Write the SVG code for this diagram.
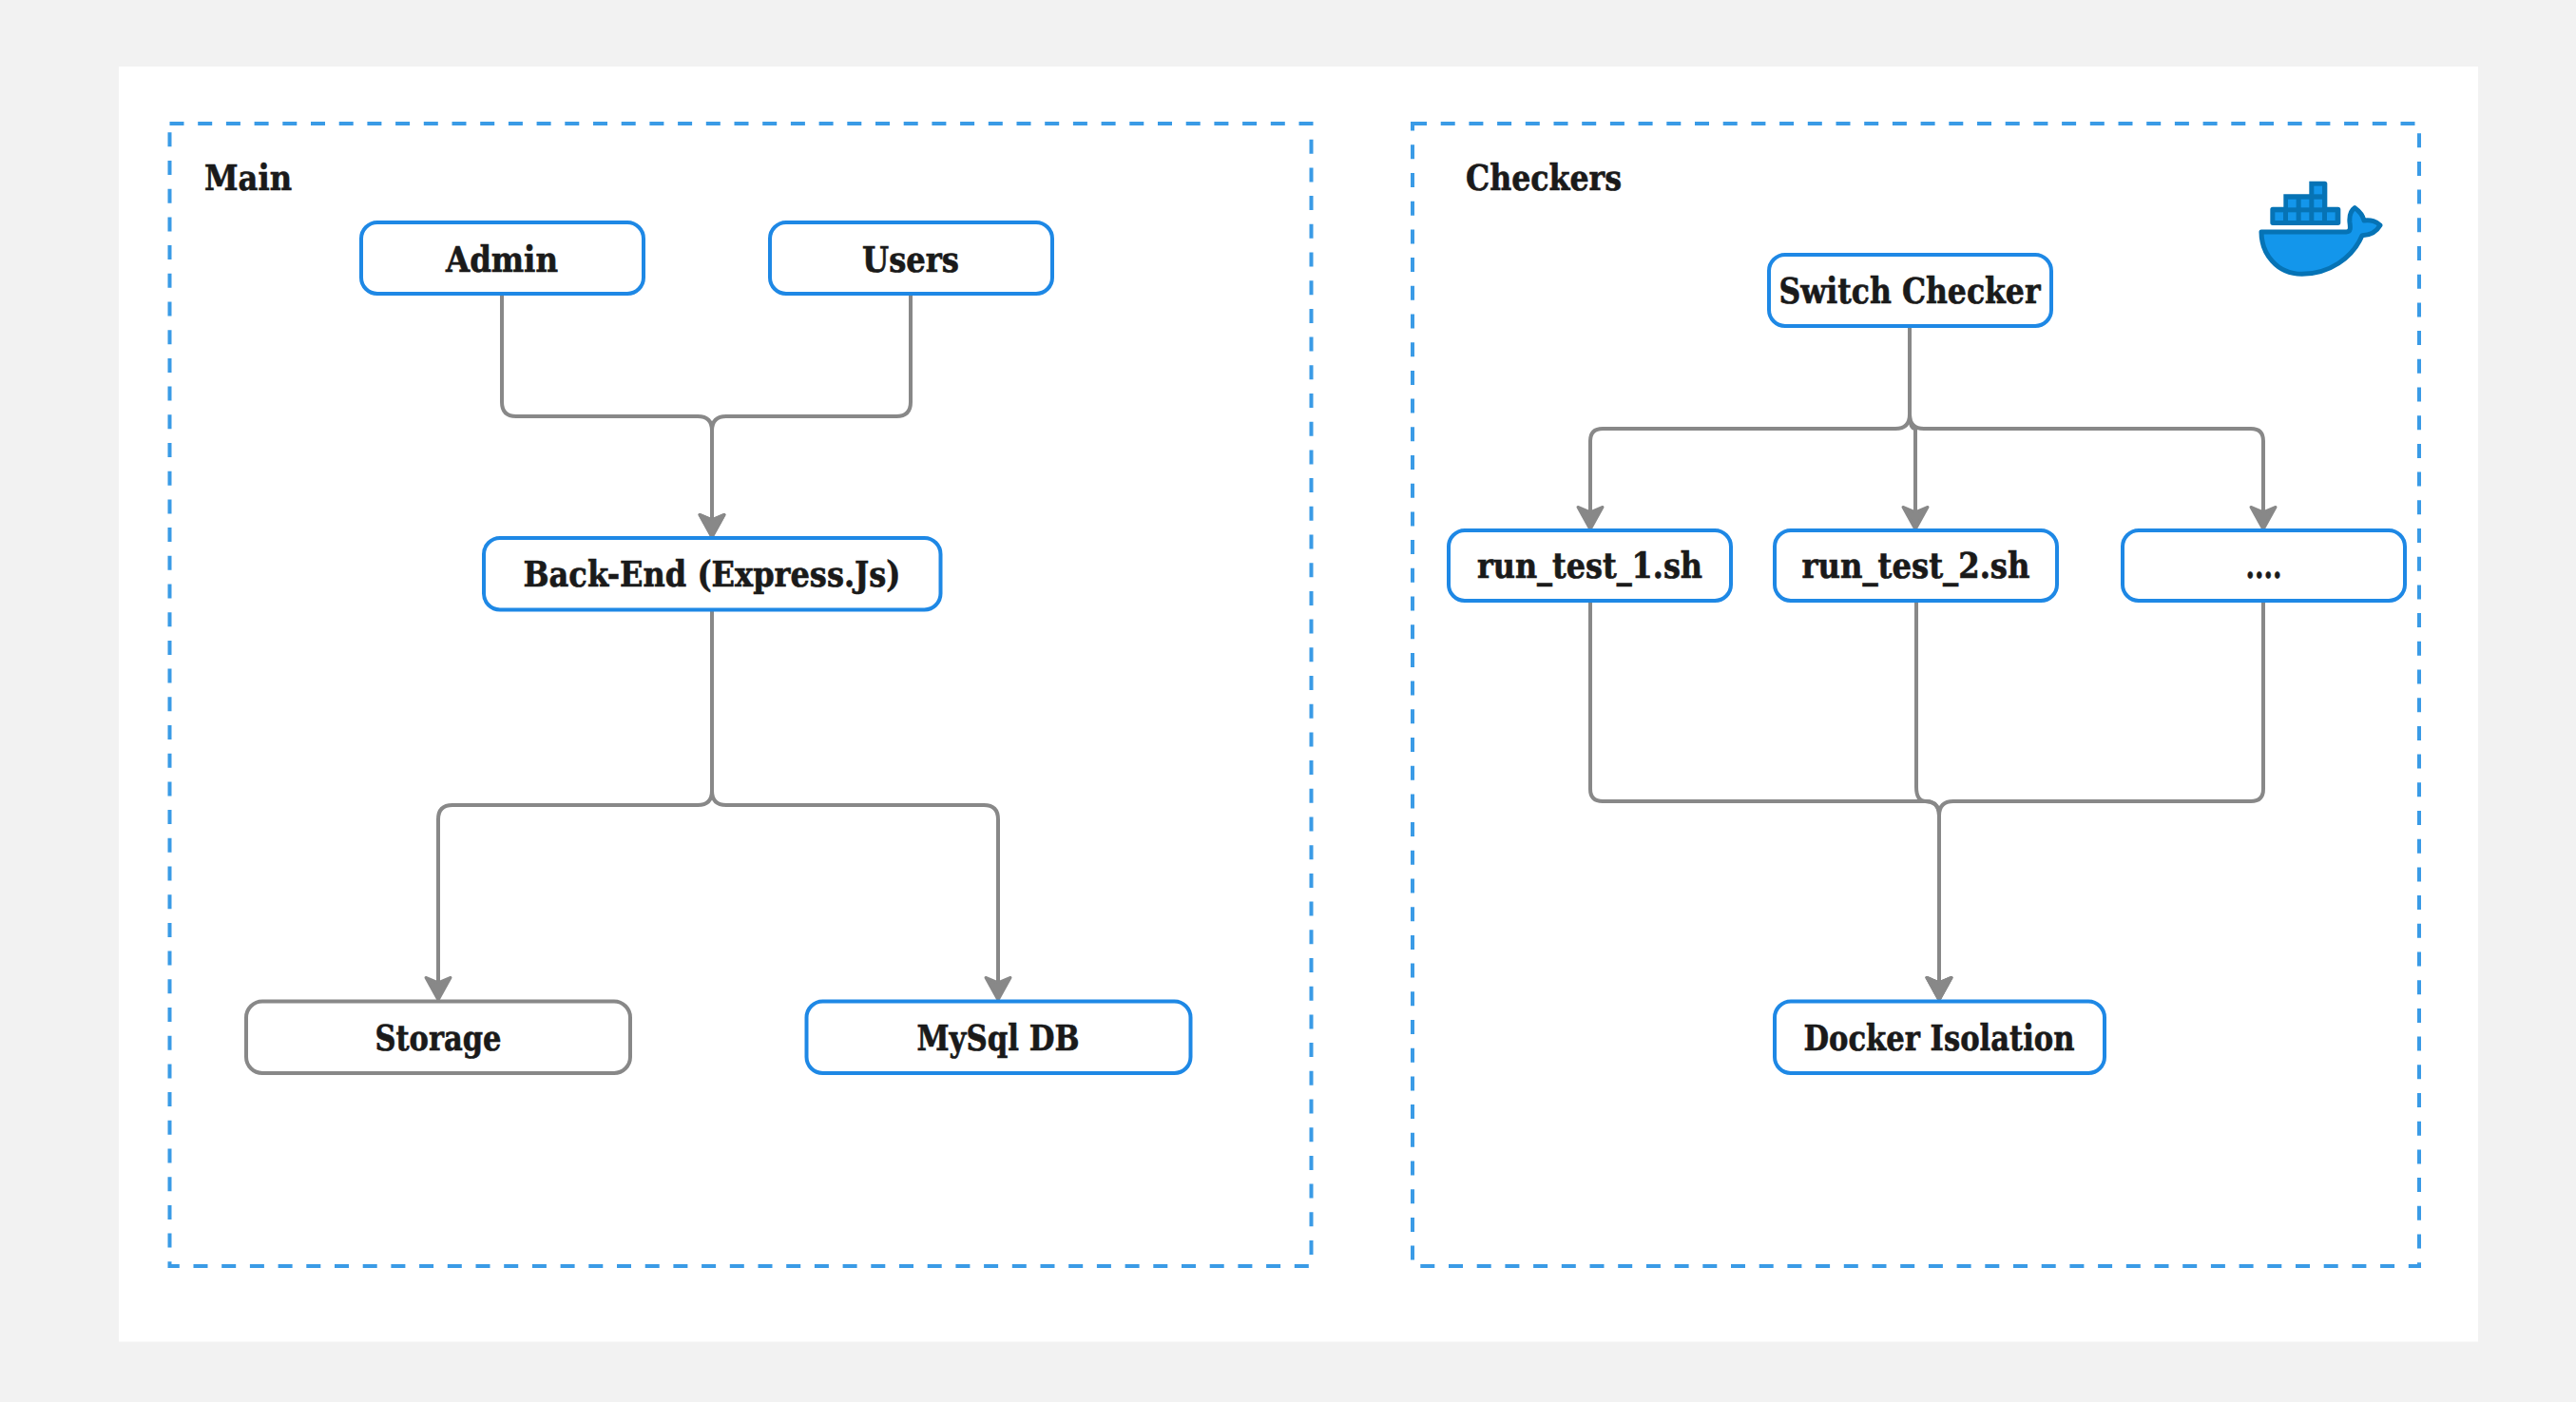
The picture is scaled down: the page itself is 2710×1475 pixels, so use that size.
<svg xmlns="http://www.w3.org/2000/svg" width="2710" height="1475" viewBox="0 0 2710 1475">
<style>
.t{font-family:"DejaVu Serif","Liberation Serif",serif;font-weight:700;font-size:38px;fill:#1a1a1a;stroke:#1a1a1a;stroke-width:.7;text-anchor:middle}
.l{text-anchor:start}
.n{fill:#fff;stroke:#1e88e5;stroke-width:4}
.g{fill:#fff;stroke:#888;stroke-width:4}
.d{fill:none;stroke:#3a9be6;stroke-width:4;stroke-dasharray:15 14.7}
.c{fill:none;stroke:#888;stroke-width:4;marker-end:url(#a)}
</style>
<defs>
<marker id="a" markerUnits="userSpaceOnUse" markerWidth="30" markerHeight="32" viewBox="0 0 30 32" refX="17" refY="16" orient="auto">
<path d="M3.500 3L27 16L3.500 29L9 16Z" fill="#888" stroke="#888" stroke-width="3" stroke-linejoin="round"/>
</marker>
</defs>
<rect width="2710" height="1475" fill="#f2f2f2"/>
<rect x="125" y="70" width="2482" height="1341.500" fill="#fff"/>
<g id="group-main"><rect class="d" x="178.500" y="130" width="1201" height="1202"/><text class="t l" x="215" y="200" textLength="92" lengthAdjust="spacingAndGlyphs">Main</text></g>
<g id="group-checkers"><rect class="d" x="1486" y="130" width="1059" height="1202"/><text class="t l" x="1542" y="200" textLength="164" lengthAdjust="spacingAndGlyphs">Checkers</text></g>
<g id="connectors">
<path class="c" d="M528 310V423Q528 438 543 438H734Q749 438 749 453V555"/>
<path class="c" d="M958 310V423Q958 438 943 438H764Q749 438 749 453V555"/>
<path class="c" d="M749 642V832Q749 847 734 847H476Q461 847 461 862V1042"/>
<path class="c" d="M749 642V832Q749 847 764 847H1035Q1050 847 1050 862V1042"/>
<path class="c" d="M2009 343V436Q2009 451 1994 451H1686Q1673 451 1673 464V547"/>
<path class="c" d="M2009 343V436Q2009 451 2015 451V547"/>
<path class="c" d="M2009 343V436Q2009 451 2024 451H2368Q2381 451 2381 464V547"/>
<path class="c" d="M1673 632V830Q1673 843 1686 843H2025Q2040 843 2040 858V1042"/>
<path class="c" d="M2016 632V828Q2016 843 2026 843Q2040 843 2040 858V1042"/>
<path class="c" d="M2381 632V830Q2381 843 2368 843H2055Q2040 843 2040 858V1042"/>
</g>
<g id="node-admin"><rect class="n" x="380" y="234" width="297" height="75" rx="17"/><text class="t" x="528" y="286" textLength="118" lengthAdjust="spacingAndGlyphs">Admin</text></g>
<g id="node-users"><rect class="n" x="810" y="234" width="297" height="75" rx="17"/><text class="t" x="958" y="286" textLength="102" lengthAdjust="spacingAndGlyphs">Users</text></g>
<g id="node-backend"><rect class="n" x="509" y="566" width="480.500" height="75.500" rx="17"/><text class="t" x="749" y="617" textLength="397" lengthAdjust="spacingAndGlyphs">Back-End (Express.Js)</text></g>
<g id="node-storage"><rect class="g" x="259" y="1053.500" width="404" height="75.500" rx="17"/><text class="t" x="461" y="1105" textLength="133" lengthAdjust="spacingAndGlyphs">Storage</text></g>
<g id="node-mysql"><rect class="n" x="848.500" y="1053.500" width="404" height="75.500" rx="17"/><text class="t" x="1050" y="1105" textLength="171" lengthAdjust="spacingAndGlyphs">MySql DB</text></g>
<g id="node-switch"><rect class="n" x="1861" y="268" width="297" height="75" rx="17"/><text class="t" x="2009" y="319" textLength="275" lengthAdjust="spacingAndGlyphs">Switch Checker</text></g>
<g id="node-run1"><rect class="n" x="1524" y="558" width="297" height="74" rx="17"/><text class="t" x="1672.500" y="608" textLength="237" lengthAdjust="spacingAndGlyphs">run_test_1.sh</text></g>
<g id="node-run2"><rect class="n" x="1867" y="558" width="297" height="74" rx="17"/><text class="t" x="2015.500" y="608" textLength="240" lengthAdjust="spacingAndGlyphs">run_test_2.sh</text></g>
<g id="node-more"><rect class="n" x="2233" y="558" width="297" height="74" rx="17"/><text class="t" x="2381.500" y="608" textLength="38" lengthAdjust="spacingAndGlyphs">....</text></g>
<g id="node-docker"><rect class="n" x="1867" y="1053.500" width="347" height="75.500" rx="17"/><text class="t" x="2040" y="1105" textLength="285" lengthAdjust="spacingAndGlyphs">Docker Isolation</text></g>
<g id="docker-logo" transform="translate(2280 160) scale(.3333)">
<path d="M297 252H565C580 252 578 238 576 222C574 200 582 183 592 176C606 186 618 202 621 216C642 212 662 220 672 231C660 252 640 263 615 263C585 335 510 385 425 385C345 385 297 320 297 252Z" fill="#1396eb" stroke="#0673b5" stroke-width="15" stroke-linejoin="round"/>
<path d="M333 173H367V133H448V92H497Q505 92 505 100V173H539Q547 173 547 181V223Q547 231 539 231H333Q325 231 325 223V181Q325 173 333 173Z" fill="#0673b5"/>
<g fill="#1396eb"><rect x="340" y="190" width="26" height="26"/><rect x="381" y="190" width="26" height="26"/><rect x="422" y="190" width="26" height="26"/><rect x="463" y="190" width="26" height="26"/><rect x="504" y="190" width="26" height="26"/><rect x="381" y="149" width="26" height="26"/><rect x="422" y="149" width="26" height="26"/><rect x="463" y="149" width="26" height="26"/><rect x="463" y="107" width="26" height="26"/></g>
</g>
</svg>
